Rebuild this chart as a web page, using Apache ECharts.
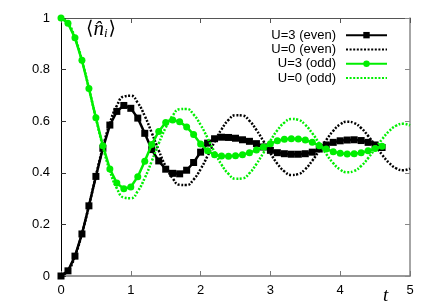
<!DOCTYPE html>
<html>
<head>
<meta charset="utf-8">
<script src="https://cdn.jsdelivr.net/npm/echarts@6/dist/echarts.min.js"></script>
<style>html,body{margin:0;padding:0;background:#fff}#c{width:436px;height:306px}</style>
</head>
<body>
<div id="c"></div>
<script>
// time grids
var tU3 = [0,0.1,0.2,0.3,0.4,0.5,0.6,0.7,0.8,0.9,1.0,1.1,1.2,1.3,1.4,1.5,1.6,1.7,1.8,1.9,2.0,2.1,2.2,2.3,2.4,2.5,2.6,2.7,2.8,2.9,3.0,3.1,3.2,3.3,3.4,3.5,3.6,3.7,3.8,3.9,4.0,4.1,4.2,4.3,4.4,4.5,4.6];
var tU0 = [0,0.1,0.2,0.3,0.4,0.5,0.6,0.7,0.8,0.9,1.0,1.1,1.2,1.3,1.4,1.5,1.6,1.7,1.8,1.9,2.0,2.1,2.2,2.3,2.4,2.5,2.6,2.7,2.8,2.9,3.0,3.1,3.2,3.3,3.4,3.5,3.6,3.7,3.8,3.9,4.0,4.1,4.2,4.3,4.4,4.5,4.6,4.7,4.8,4.9,5.0];
// U=3 (even), U=3 (odd)
var u3Even = [0,0.020,0.077,0.163,0.272,0.386,0.495,0.585,0.638,0.661,0.650,0.612,0.553,0.490,0.446,0.414,0.398,0.396,0.410,0.440,0.480,0.515,0.532,0.538,0.537,0.534,0.528,0.522,0.513,0.500,0.487,0.478,0.474,0.472,0.472,0.474,0.480,0.492,0.508,0.518,0.524,0.527,0.528,0.525,0.518,0.508,0.498];
var u3Odd = [1,0.980,0.923,0.836,0.727,0.613,0.505,0.415,0.360,0.338,0.345,0.385,0.445,0.510,0.560,0.595,0.605,0.598,0.578,0.548,0.512,0.485,0.470,0.465,0.464,0.466,0.470,0.478,0.488,0.500,0.513,0.524,0.530,0.532,0.531,0.527,0.518,0.505,0.492,0.482,0.476,0.473,0.474,0.478,0.485,0.494,0.503];
// U=0 (even), U=0 (odd)
var u0Even = [0,0.0198,0.0769,0.1645,0.2723,0.3881,0.4988,0.5925,0.6601,0.6959,0.6986,0.6712,0.6202,0.5552,0.4865,0.4247,0.3784,0.3535,0.3525,0.3742,0.4142,0.4653,0.5196,0.5685,0.6047,0.6231,0.6217,0.6016,0.5660,0.5225,0.4761,0.4352,0.4056,0.3916,0.3949,0.4145,0.4467,0.4865,0.5272,0.5626,0.5875,0.5980,0.5930,0.5737,0.5430,0.5069,0.4700,0.4387,0.4176,0.4100,0.4165];
var u0Odd = [1,0.9802,0.9231,0.8355,0.7277,0.6119,0.5012,0.4075,0.3399,0.3041,0.3014,0.3288,0.3798,0.4448,0.5135,0.5753,0.6217,0.6466,0.6476,0.6258,0.5859,0.5347,0.4804,0.4315,0.3954,0.3770,0.3784,0.3984,0.4340,0.4776,0.5240,0.5649,0.5944,0.6084,0.6052,0.5856,0.5533,0.5136,0.4728,0.4374,0.4125,0.4020,0.4070,0.4263,0.4570,0.4932,0.5300,0.5613,0.5824,0.5901,0.5835];
var seriesNames = ['U=3 (even)','U=0 (even)','U=3 (odd)','U=0 (odd)'];
var xTicks = [0,1,2,3,4,5];
var yTicks = [0,0.2,0.4,0.6,0.8,1];

function pairs(t, v){ return v.map(function(y,i){ return [t[i], y]; }); }

var BLACK = '#000000', GREEN = '#00ee00';
var chart = echarts.init(document.getElementById('c'), null, {renderer:'canvas'});
var lblFont = {color:'#000', fontSize:13, fontFamily:'Liberation Sans, Arial, sans-serif'};
var noSym = {color:'rgba(0,0,0,0)', borderWidth:0, opacity:0};
chart.setOption({
  animation:false,
  backgroundColor:'#fff',
  grid:{left:61, right:26, top:18, bottom:30, show:false},
  xAxis:[{
    type:'value', min:xTicks[0], max:xTicks[xTicks.length-1], interval:1, position:'bottom',
    axisLine:{show:true, onZero:false, lineStyle:{color:'#777', width:1.5}},
    axisTick:{show:true, inside:true, length:5, lineStyle:{color:'#777'}},
    axisLabel:Object.assign({margin:8}, lblFont),
    splitLine:{show:false}
  },{
    type:'value', min:xTicks[0], max:xTicks[xTicks.length-1], interval:1, position:'top',
    axisLine:{show:true, onZero:false, lineStyle:{color:'#555', width:1.2}},
    axisTick:{show:true, inside:true, length:5, lineStyle:{color:'#555'}},
    axisLabel:{show:false}, splitLine:{show:false}
  }],
  yAxis:[{
    type:'value', min:yTicks[0], max:yTicks[yTicks.length-1], interval:0.2, position:'left',
    axisLine:{show:true, onZero:false, lineStyle:{color:'#000', width:1}},
    axisTick:{show:true, inside:true, length:5, lineStyle:{color:'#333'}},
    axisLabel:Object.assign({margin:11}, lblFont),
    splitLine:{show:false}
  },{
    type:'value', min:yTicks[0], max:yTicks[yTicks.length-1], interval:0.2, position:'right',
    axisLine:{show:true, onZero:false, lineStyle:{color:'#888', width:1.5}},
    axisTick:{show:true, inside:true, length:5, lineStyle:{color:'#888'}},
    axisLabel:{show:false}, splitLine:{show:false}
  }],
  legend:{
    orient:'vertical', align:'right', right:43, top:23, itemGap:0,
    itemWidth:41, itemHeight:8,
    data:[
      {name:seriesNames[0]},
      {name:seriesNames[1], itemStyle:noSym},
      {name:seriesNames[2]},
      {name:seriesNames[3], itemStyle:noSym}
    ],
    textStyle:{color:'#000', fontSize:13, lineHeight:14.3, fontFamily:'Liberation Sans, Arial, sans-serif', padding:[0,5,0,0]}
  },
  graphic:[{
    type:'text', left:86, top:19,
    style:{
      text:'{a|⟨}{n|n̂}{s|i}{a|⟩}',
      rich:{
        a:{fontSize:19, fontFamily:'DejaVu Serif, serif', fill:'#000'},
        n:{fontSize:21, fontStyle:'italic', fontFamily:'Liberation Serif, serif', fill:'#000'},
        s:{fontSize:13, fontStyle:'italic', fontFamily:'Liberation Serif, serif', fill:'#000', verticalAlign:'bottom', padding:[8,1,0,0]}
      }
    }
  },{
    type:'text', left:383, top:286,
    style:{text:'t', fontSize:19, fontStyle:'italic', fontFamily:'Liberation Serif, serif', fill:'#000'}
  }],
  series:[{
    name:seriesNames[0], type:'line', data:pairs(tU3,u3Even),
    symbol:'rect', symbolSize:7, showAllSymbol:true,
    lineStyle:{color:BLACK, width:2.5}, itemStyle:{color:BLACK}, z:2
  },{
    name:seriesNames[1], type:'line', data:pairs(tU0,u0Even), smooth:true,
    symbol:'none', lineStyle:{color:BLACK, width:2.5, type:[2,1.6]}, itemStyle:{color:BLACK}, z:3
  },{
    name:seriesNames[2], type:'line', data:pairs(tU3,u3Odd),
    symbol:'circle', symbolSize:7, showAllSymbol:true,
    lineStyle:{color:GREEN, width:2.5}, itemStyle:{color:GREEN}, z:4
  },{
    name:seriesNames[3], type:'line', data:pairs(tU0,u0Odd), smooth:true,
    symbol:'none', lineStyle:{color:GREEN, width:2.5, type:[2,1.6]}, itemStyle:{color:GREEN}, z:5
  }]
});
</script>
</body>
</html>
